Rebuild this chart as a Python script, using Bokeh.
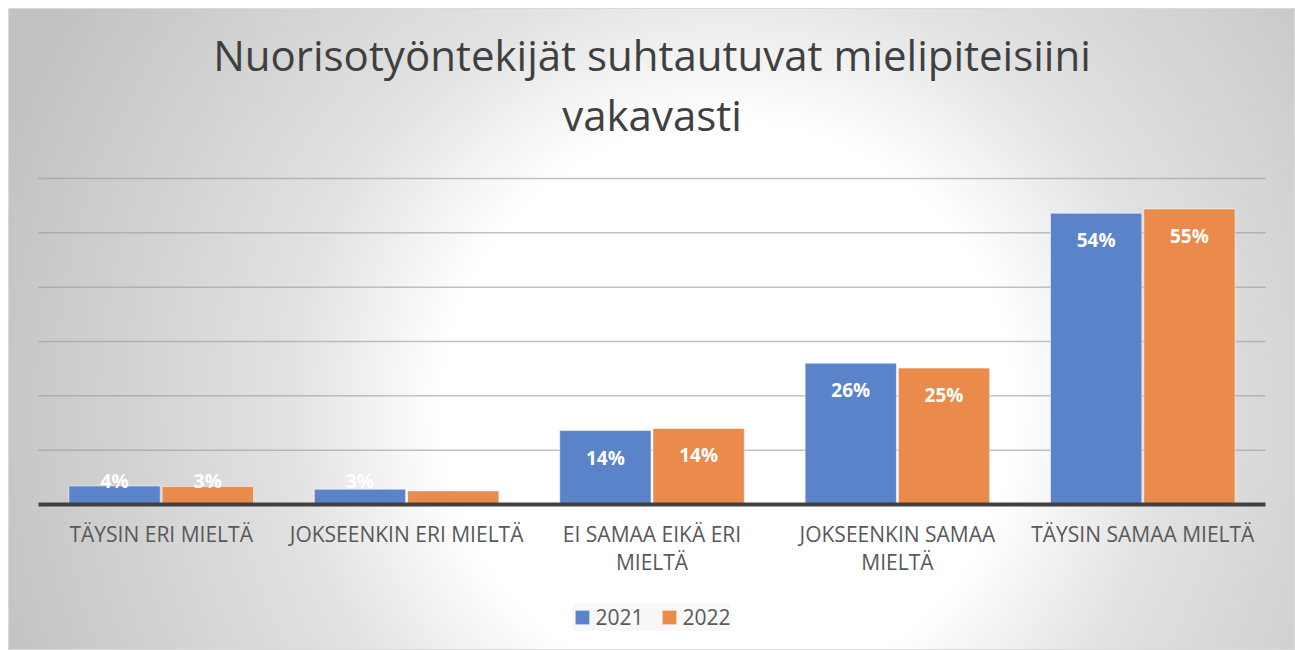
from bokeh.plotting import figure
from bokeh.models import ColumnDataSource, FactorRange, Range1d, Legend, LegendItem
from bokeh.transform import dodge
from bokeh.core.properties import value
from bokeh.embed import file_html
from bokeh.resources import INLINE

# ---- data ----
categories = ["TÄYSIN ERI MIELTÄ", "JOKSEENKIN ERI MIELTÄ", "EI SAMAA EIKÄ ERI MIELTÄ",
              "JOKSEENKIN SAMAA MIELTÄ", "TÄYSIN SAMAA MIELTÄ"]
tick_labels = ["TÄYSIN ERI MIELTÄ", "JOKSEENKIN ERI MIELTÄ", "EI SAMAA EIKÄ ERI\nMIELTÄ",
               "JOKSEENKIN SAMAA\nMIELTÄ", "TÄYSIN SAMAA MIELTÄ"]
series_names = ["2021", "2022"]
values_2021 = [3.4, 2.8, 13.6, 26.0, 53.6]
values_2022 = [3.3, 2.5, 14.0, 25.1, 54.4]
labels_2021 = ["4%", "3%", "14%", "26%", "54%"]
labels_2022 = ["3%", "2%", "14%", "25%", "55%"]
grid_ticks = [10, 20, 30, 40, 50, 60]
title_lines = ["Nuorisotyöntekijät suhtautuvat mielipiteisiini", "vakavasti"]

BLUE = "#5A83C9"
ORANGE = "#EA8B4B"
FONT = "Open Sans"

# ---- geometry (pixels) ----
W, H = 1287, 642
TOP_PX, BOTTOM_PX = 170, 146          # space above the 60% line / below the 0 line
PX_PER_UNIT = (H - TOP_PX - BOTTOM_PX) / 60.0
PAD_PX = 30
CAT_PX = (W - 2 * PAD_PX) / len(categories)
BASELINE_FIX = 0.45                   # em correction for text baseline placement


def px(d):
    return d / PX_PER_UNIT


y_lo = -px(BOTTOM_PX)
y_hi = 60 + px(TOP_PX)

x_range = FactorRange(*categories, factor_padding=0, range_padding=PAD_PX / CAT_PX,
                      range_padding_units="absolute")

p = figure(width=W, height=H, x_range=x_range, y_range=Range1d(y_lo, y_hi),
           output_backend="svg", toolbar_location=None, title=None,
           x_axis_location=None, y_axis_location=None,
           min_border=0, min_border_left=0, min_border_right=0,
           min_border_top=0, min_border_bottom=0)
p.margin = (8, 0, 0, 8)
p.grid.visible = False

p.styles = {"background": "radial-gradient(circle at 720px 400px, #ffffff 0px, #ffffff 285px, "
                          "#e2e2e2 440px, #c2c2c2 770px)",
            "box-shadow": "inset 0 0 0 1px #dadada"}
p.background_fill_alpha = 0
p.border_fill_alpha = 0
p.outline_line_color = None

# ---- gridlines ----
x_start = (categories[0], -0.5)
x_end = (categories[-1], 0.5)
p.segment(x0=[x_start] * len(grid_ticks), x1=[x_end] * len(grid_ticks),
          y0=grid_ticks, y1=grid_ticks, line_color="#9a9a9a", line_alpha=0.6, line_width=1.5)


# ---- bars ----
def label_y(vals):
    # inside-end placement; clamp small bars so label stays above the axis
    return [max(v - px(27), px(24)) for v in vals]


src = ColumnDataSource(dict(
    cat=categories,
    v21=values_2021, v22=values_2022,
    l21=labels_2021, l22=labels_2022,
    y21=label_y(values_2021), y22=label_y(values_2022),
))

OFF = 0.19
BW = 0.372
r1 = p.vbar(x=dodge("cat", -OFF, range=p.x_range), top="v21", width=BW, source=src,
            fill_color=BLUE, line_color="white", line_alpha=0.5, line_width=1)
r2 = p.vbar(x=dodge("cat", OFF, range=p.x_range), top="v22", width=BW, source=src,
            fill_color=ORANGE, line_color="white", line_alpha=0.5, line_width=1)

# baseline (category axis line)
p.segment(x0=[x_start], x1=[x_end], y0=[0], y1=[0], line_color="#404040", line_width=4)

for xo, col, ycol in ((-OFF, "l21", "y21"), (OFF, "l22", "y22")):
    p.text(x=dodge("cat", xo, range=p.x_range), y=ycol, text=col, source=src,
           text_font=value(FONT), text_font_style="bold", text_font_size="19px",
           text_color="white", text_align="center", text_baseline="middle")

# ---- category labels (wrapped) ----
LAB_FS = 21
lab_x, lab_y, lab_t = [], [], []
for cat, lab in zip(categories, tick_labels):
    for i, line in enumerate(lab.split("\n")):
        lab_x.append(cat)
        lab_y.append(-px(39.3 + 27.4 * i - BASELINE_FIX * LAB_FS))
        lab_t.append(line)
p.text(x=lab_x, y=lab_y, text=lab_t, text_font=value(FONT), text_font_size=f"{LAB_FS}px",
       text_color="#595959", text_align="center", text_baseline="alphabetic")

# ---- title ----
TITLE_FS = 42
tx = [categories[len(categories) // 2]] * len(title_lines)
ty = [60 + px(TOP_PX - 65 - 59.5 * i + BASELINE_FIX * TITLE_FS) for i in range(len(title_lines))]
p.text(x=tx, y=ty, text=title_lines, text_font=value(FONT), text_font_size=f"{TITLE_FS}px",
       text_color="#404040", text_align="center", text_baseline="alphabetic")

# ---- legend ----
legend = Legend(items=[LegendItem(label=series_names[0], renderers=[r1]),
                       LegendItem(label=series_names[1], renderers=[r2])],
                orientation="horizontal", location="bottom_center")
legend.label_text_font = FONT
legend.label_text_font_size = "21px"
legend.label_text_color = "#595959"
legend.glyph_width = 18
legend.glyph_height = 18
legend.label_standoff = 5
legend.spacing = 16
legend.padding = 10
legend.margin = 19
legend.border_line_color = None
legend.background_fill_color = "#eeeeee"
legend.background_fill_alpha = 0.4
p.add_layout(legend)

open("out.html", "w").write(file_html(p, INLINE))
